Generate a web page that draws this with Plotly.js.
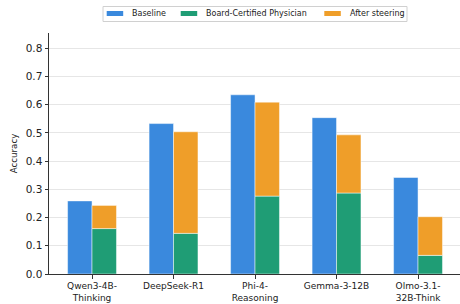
<!DOCTYPE html>
<html>
<head>
<meta charset="utf-8">
<script src="https://cdn.plot.ly/plotly-3.0.1.min.js"></script>
<style>html,body{margin:0;padding:0;background:#fff;}#chart{width:460px;height:304px;}</style>
</head>
<body>
<div id="chart"></div>
<script>
const models = ["Qwen3-4B-<br>Thinking", "DeepSeek-R1", "Phi-4-<br>Reasoning", "Gemma-3-12B", "Olmo-3.1-<br>32B-Think"];
const baseline = [0.259, 0.533, 0.635, 0.554, 0.342];
const physician = [0.161, 0.144, 0.276, 0.287, 0.066];
const afterSteering = [0.243, 0.504, 0.609, 0.493, 0.203];
const yTicks = [0, 0.1, 0.2, 0.3, 0.4, 0.5, 0.6, 0.7, 0.8];
const seriesNames = ['Baseline', 'Board-Certified Physician', 'After steering'];
const seriesColors = ['#3A89DD', '#1F9D75', '#EF9E29'];

const W = 460, H = 304, M = {l: 49, r: 0, t: 33, b: 30};
const pw = W - M.l - M.r, ph = H - M.t - M.b;
const px = x => (x - M.l) / pw;
const py = y => (H - M.b - y) / ph;

const xs = models.map((_, i) => i);
const edge = {width: 0.8, color: 'rgba(255,255,255,0.6)'};

const traces = [
  {type: 'bar', name: seriesNames[0], x: xs, y: baseline, offset: -0.3, width: 0.3,
   marker: {color: seriesColors[0], line: edge}},
  {type: 'bar', name: seriesNames[1], x: xs, y: physician, offset: 0, width: 0.3,
   marker: {color: seriesColors[1], line: edge}},
  {type: 'bar', name: seriesNames[2], x: xs, base: physician,
   y: afterSteering.map((v, i) => v - physician[i]), offset: 0, width: 0.3,
   marker: {color: seriesColors[2], line: edge}}
];

// custom matplotlib-style legend
const patchX = [106.7, 180.7, 324.3];
const textX = [129.5, 204.3, 347.7];
const shapes = [
  {type: 'rect', xref: 'paper', yref: 'paper', x0: px(103), x1: px(407), y0: py(21.5), y1: py(6.5),
   line: {color: '#d0d0d0', width: 1}, fillcolor: 'rgba(255,255,255,0.9)', layer: 'above'}
];
const annotations = [];
seriesNames.forEach((n, i) => {
  shapes.push({type: 'rect', xref: 'paper', yref: 'paper', x0: px(patchX[i]), x1: px(patchX[i] + 16.5),
    y0: py(16), y1: py(11), line: {width: 0}, fillcolor: seriesColors[i], layer: 'above'});
  annotations.push({xref: 'paper', yref: 'paper', x: px(textX[i]), y: py(13.8), xanchor: 'left', yanchor: 'middle',
    text: n, showarrow: false, font: {size: 8, color: '#222'}});
});

const layout = {
  width: W, height: H,
  margin: M,
  paper_bgcolor: '#fff', plot_bgcolor: '#fff',
  font: {family: 'DejaVu Sans', color: '#222', size: 10},
  barmode: 'overlay',
  showlegend: false,
  shapes: shapes,
  annotations: annotations,
  xaxis: {range: [-0.528, 4.515], tickmode: 'array', tickvals: xs, ticktext: models,
          showgrid: false, zeroline: false, showline: true, linecolor: '#333', linewidth: 1,
          ticks: 'outside', ticklen: 3.5, tickcolor: '#333', tickfont: {size: 9}},
  yaxis: {range: [0, 0.854], tickmode: 'array', tickvals: yTicks,
          ticktext: yTicks.map(v => v.toFixed(1)),
          showgrid: true, gridcolor: '#e6e6e6', gridwidth: 1, zeroline: false,
          showline: true, linecolor: '#333', linewidth: 1,
          ticks: 'outside', ticklen: 3.5, tickcolor: '#333', tickfont: {size: 10.5},
          title: {text: 'Accuracy', font: {size: 8.7}, standoff: 6}}
};

Plotly.newPlot('chart', traces, layout, {displayModeBar: false, staticPlot: true});
</script>
</body>
</html>
